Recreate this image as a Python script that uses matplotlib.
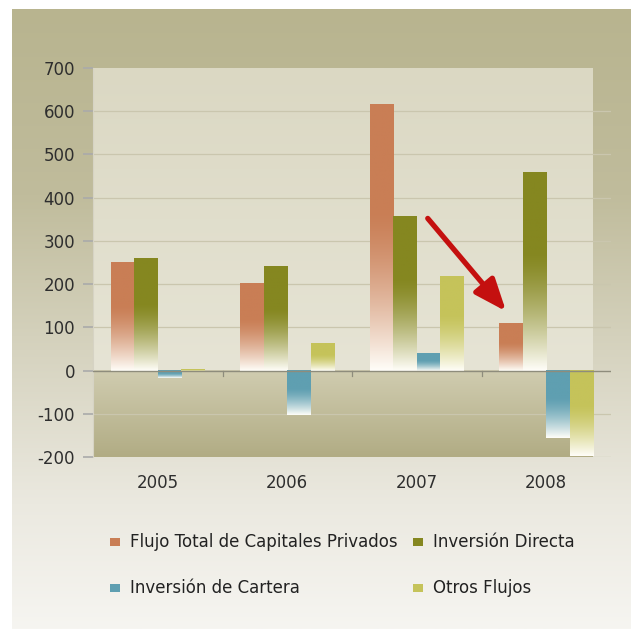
import numpy as np
import matplotlib
matplotlib.use("Agg")
import matplotlib.pyplot as plt
from matplotlib.colors import to_rgb
from matplotlib.patches import Rectangle

plt.rcParams['font.family'] = ['DejaVu Sans']

years = ['2005', '2006', '2007', '2008']
series = ['Flujo Total de Capitales Privados', 'Inversión Directa',
          'Inversión de Cartera', 'Otros Flujos']
flujo_total = [250, 202, 617, 110]
inversion_directa = [261, 242, 358, 460]
inversion_cartera = [-18, -102, 40, -157]
otros_flujos = [4, 63, 219, -198]
colors = ['#c97e55', '#858720', '#5f9fb1', '#c5c35a']
yticks = [-200, -100, 0, 100, 200, 300, 400, 500, 600, 700]

W, H = 631, 629
fig = plt.figure(figsize=(W / 100, H / 100), dpi=100)
fig.patch.set_facecolor('white')


def vgrad(stops, n=256):
    # stops: list of (position 0..1 from top, colour)
    pos = np.array([s[0] for s in stops])
    cols = np.array([to_rgb(s[1]) for s in stops])
    t = np.linspace(0, 1, n)
    img = np.stack([np.interp(t, pos, cols[:, k]) for k in range(3)], axis=1)
    return img[:, None, :]


# outer panel
bg = fig.add_axes([12 / W, 0, 1 - 12 / W, 1 - 9 / H])
bg.imshow(vgrad([(0, '#b8b48f'), (0.3, '#c0bc9c'), (0.55, '#d6d3bf'),
                 (0.8, '#ebe9e0'), (1, '#f6f5f1')]),
          aspect='auto', extent=(0, 1, 0, 1))
bg.set_xlim(0, 1)
bg.set_ylim(0, 1)
bg.axis('off')

# plot area
L, R, T, B = 93, 611, 68, 457
ax = fig.add_axes([L / W, 1 - B / H, (R - L) / W, (B - T) / H])
ax.patch.set_alpha(0)
ax.set_xlim(-0.5, 3.5)
ax.set_ylim(-200, 700)

fill_right = (593 - L) / (R - L) * 4 - 0.5
ax.imshow(vgrad([(0, '#dbd8c3'), (1, '#e6e4d5')]), aspect='auto',
          extent=(-0.5, fill_right, 0, 700), zorder=0)
ax.imshow(vgrad([(0, '#d0ccb0'), (1, '#b1ac84')]), aspect='auto',
          extent=(-0.5, fill_right, -200, 0), zorder=0)

for yv in yticks:
    if yv not in (0, -200, 700):
        ax.axhline(yv, color='#cac6ae', lw=0.9, zorder=1)
ax.axhline(0, color='#8e8c7c', lw=1.0, zorder=4)
ax.axhline(-200, color='#c9c6b4', lw=0.9, zorder=1, xmin=(fill_right + 0.5) / 4)

x = np.arange(len(years))
bw = 0.181
values = [flujo_total, inversion_directa, inversion_cartera, otros_flujos]

# bars: solid colour at the top, fading to white toward the bottom
for i, (vals, c) in enumerate(zip(values, colors)):
    bars = ax.bar(x + (i - 1.5) * bw, vals, bw, color='none', zorder=2)
    rgb = np.array(to_rgb(c))
    t = np.linspace(0, 1, 200)  # 0 = top, 1 = bottom
    w = np.clip((t - 0.4) / 0.6, 0, 1) ** 1.4
    img = rgb[None, :] * (1 - w[:, None]) + np.array([1.0, 0.995, 0.975])[None, :] * w[:, None]
    img = img[:, None, :]
    for b in bars:
        x0, y0 = b.get_x(), b.get_y()
        x1, y1 = x0 + b.get_width(), y0 + b.get_height()
        top, bot = max(y0, y1), min(y0, y1)
        ax.imshow(img, aspect='auto', extent=(x0, x1, bot, top), zorder=3)

ax.set_xlim(-0.5, 3.5)
ax.set_ylim(-200, 700)

# category separators on the zero line
for xb in [0.5, 1.5, 2.5]:
    ax.plot([xb, xb], [0, -12], color='#8e8c7c', lw=0.9, zorder=4)

ax.annotate('', xy=(2.69, 137), xytext=(2.085, 352),
            arrowprops=dict(arrowstyle='-|>,head_length=0.75,head_width=0.3',
                            color='#c4100f', lw=3.8,
                            mutation_scale=26, shrinkA=0, shrinkB=0),
            zorder=6)

ax.set_yticks(yticks)
ax.set_yticklabels([str(v) for v in yticks], fontsize=12, color='#2e2e2e')
ax.tick_params(axis='y', length=7, width=1.2, color='#aaaaaa', pad=6)
ax.set_xticks(x)
ax.set_xticklabels(years, fontsize=12, color='#2e2e2e')
ax.tick_params(axis='x', length=0, pad=12)
for s in ['top', 'right', 'bottom']:
    ax.spines[s].set_visible(False)
ax.spines['left'].set_color('#d6d3c4')
ax.spines['left'].set_linewidth(0.8)

# legend
legend_pos = [(110, 542), (413, 542), (110, 588), (413, 588)]
for (px, py), label, c in zip(legend_pos, series, colors):
    fig.patches.append(Rectangle((px / W, 1 - (py + 4) / H), 10 / W, 8 / H,
                                 transform=fig.transFigure, facecolor=c,
                                 edgecolor='none'))
    fig.text((px + 20) / W, 1 - py / H, label, fontsize=12,
             color='#222222', va='center', ha='left')

plt.savefig('out.png', dpi=100)
